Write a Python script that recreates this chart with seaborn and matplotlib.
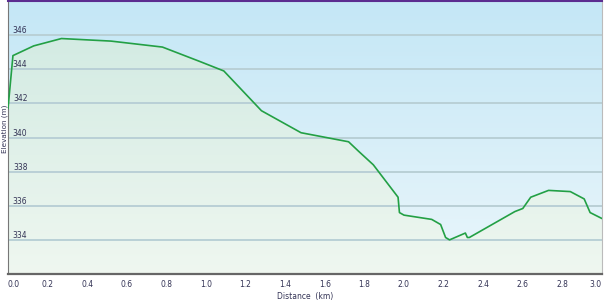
import numpy as np
import pandas as pd
import matplotlib
matplotlib.use("Agg")
import matplotlib.pyplot as plt
import seaborn as sns
from matplotlib.colors import LinearSegmentedColormap
from matplotlib.patches import Polygon

distance_km = [0.0, 0.025, 0.13, 0.27, 0.52, 0.78, 0.97, 1.09, 1.28, 1.48, 1.72,
               1.77, 1.845, 1.97, 1.977, 2.0, 2.14, 2.185, 2.21, 2.23, 2.31,
               2.32, 2.33, 2.56, 2.60, 2.64, 2.73, 2.84, 2.91, 2.94, 3.0]
elevation_m = [341.7, 344.8, 345.37, 345.8, 345.65, 345.3, 344.45, 343.9, 341.57,
               340.28, 339.75, 339.2, 338.4, 336.5, 335.6, 335.45, 335.2, 334.9,
               334.14, 334.0, 334.4, 334.14, 334.14, 335.66, 335.84, 336.5, 336.9,
               336.83, 336.4, 335.6, 335.25]
y_ticks = [334, 336, 338, 340, 342, 344, 346]
x_ticks = [0.0, 0.2, 0.4, 0.6, 0.8, 1.0, 1.2, 1.4, 1.6, 1.8, 2.0, 2.2, 2.4, 2.6, 2.8, 3.0]

df = pd.DataFrame({"Distance": distance_km, "Elevation": elevation_m})

sns.set_style("white")
plt.rcParams["font.family"] = ["DejaVu Sans"]

fig = plt.figure(figsize=(6.04, 3.02), dpi=100)
ax = fig.add_axes([8 / 604, 28 / 302, 594 / 604, 273 / 302])
ax.set_axisbelow(False)
xmin, xmax, ymin, ymax = 0.0, 3.0, 332.0, 348.0

# sky gradient background
sky = LinearSegmentedColormap.from_list("sky", ["#eaf6fb", "#c4e7f6"])
grad = np.linspace(0, 1, 256).reshape(-1, 1)
ax.imshow(grad, cmap=sky, origin="lower", aspect="auto",
          extent=[xmin, xmax, ymin, ymax], zorder=0)

# green gradient under curve, clipped to area polygon
grn = LinearSegmentedColormap.from_list("grn", ["#eff7f0", "#d3ebe3"])
im = ax.imshow(grad, cmap=grn, origin="lower", aspect="auto",
               extent=[xmin, xmax, ymin, 346.0], zorder=1)
verts = [(distance_km[0], ymin)] + list(zip(distance_km, elevation_m)) + [(distance_km[-1], ymin)]
poly = Polygon(verts, closed=True, transform=ax.transData, facecolor="none", edgecolor="none")
ax.add_patch(poly)
im.set_clip_path(poly)

for t in y_ticks:
    ax.axhline(t, color="#b9d0d6", lw=1.4, zorder=2)

sns.lineplot(data=df, x="Distance", y="Elevation", ax=ax, color="#23a045",
             lw=1.2, zorder=3, sort=False)

ax.set_xlim(xmin, xmax)
ax.set_ylim(ymin, ymax)
ax.set_xticks(x_ticks)
ax.set_xticklabels([f"{v:.1f}" for v in x_ticks])
ax.set_yticks(y_ticks)
ax.set_yticklabels([str(v) for v in y_ticks])
ax.tick_params(axis="x", direction="out", length=3, width=0.8, color="#777777",
               labelsize=5.5, labelcolor="#333355", pad=1.5)
ax.tick_params(axis="y", length=0, labelsize=5.5, labelcolor="#333355", pad=-14)
for lab in ax.get_yticklabels():
    lab.set_verticalalignment("bottom")
xl = ax.get_xticklabels()
xl[0].set_horizontalalignment("left")
xl[-1].set_horizontalalignment("right")
ax.set_xlabel("Distance  (km)", fontsize=5.5, color="#333355", labelpad=2)
ax.set_ylabel("Elevation (m)", fontsize=5.2, color="#333355")
ax.yaxis.set_label_coords(0.0, 0.53)
ax.grid(False)

ax.spines["bottom"].set_color("#666666")
ax.spines["bottom"].set_linewidth(1.6)
ax.spines["left"].set_color("#777777")
ax.spines["left"].set_linewidth(0.8)
ax.spines["right"].set_color("#bbbbbb")
ax.spines["right"].set_linewidth(0.8)
ax.spines["top"].set_color("#5b2d90")
ax.spines["top"].set_linewidth(1.5)

fig.savefig("out.png", dpi=100)
